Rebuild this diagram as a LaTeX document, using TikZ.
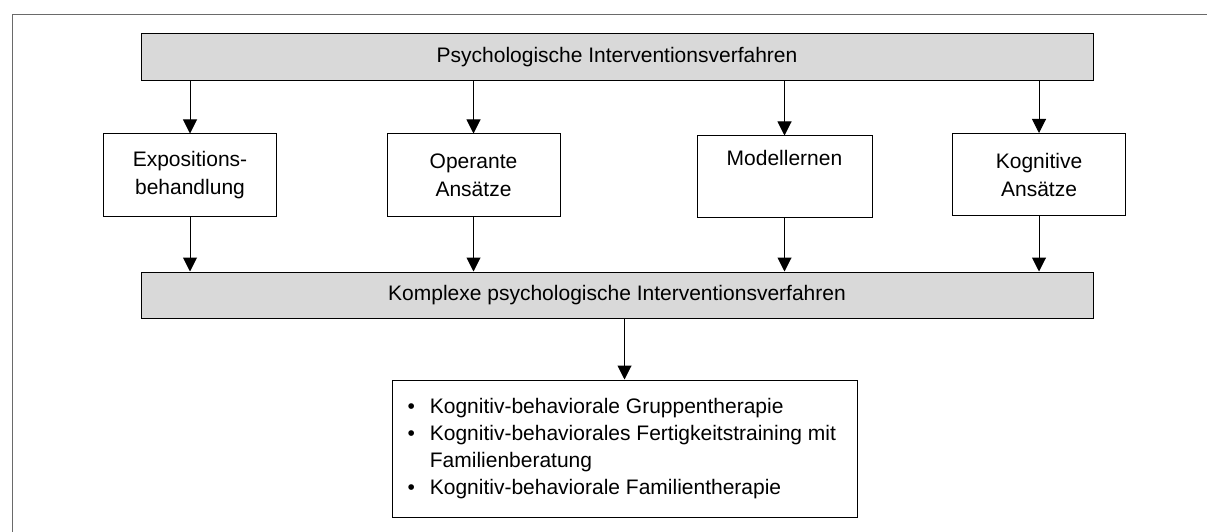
\documentclass[tikz,border=0pt]{standalone}
\usepackage{fontspec}
\setmainfont{Liberation Sans}
\usetikzlibrary{arrows.meta}
\definecolor{boxgray}{HTML}{D9D9D9}
\definecolor{framegray}{HTML}{6A6A6A}
\tikzset{
  graybox/.style={draw=black, line width=1pt, fill=boxgray, minimum width=952pt, minimum height=47pt, inner sep=0pt, font=\fontsize{21}{24}\selectfont},
  method/.style={draw=black, line width=1pt, fill=white, minimum width=173pt, minimum height=82pt, inner sep=0pt, align=center, font=\fontsize{21}{28}\selectfont},
  listbox/.style={draw=black, line width=1pt, fill=white, minimum width=465pt, minimum height=137pt, inner sep=0pt, font=\fontsize{21}{27}\selectfont},
  conn/.style={line width=1pt, draw=black, -{Triangle[width=14pt,length=14pt]}}
}
\begin{document}
\begin{tikzpicture}[x=1pt,y=-1pt]
\useasboundingbox (0,0) rectangle (1207,532);
\draw[framegray, line width=1pt] (12,540) -- (12,15) -- (1215,15);
\node[graybox] (top) at (617,57.5) {Psychologische Interventionsverfahren};
\node[method] (exp) at (190,175) {Expositions-\\behandlung};
\node[method] (ope) at (473.5,175) {Operante\\Ans\"atze};
\node[method, minimum width=175pt, minimum height=81pt] (mod) at (784.5,176.5) {Modellernen\\\strut};
\node[method] (kog) at (1039,174.5) {Kognitive\\Ans\"atze};
\node[graybox, minimum height=46pt] (kom) at (617,295) {Komplexe psychologische Interventionsverfahren};
\node[listbox] (list) at (624.5,448.5) {%
  \begin{minipage}{434pt}
  \setlength{\parindent}{0pt}%
  \begin{tabular}{@{}l@{\hspace{15pt}}l@{}}
  \textbullet & Kognitiv-behaviorale Gruppentherapie\\
  \textbullet & Kognitiv-behaviorales Fertigkeitstraining mit\\
   & Familienberatung\\
  \textbullet & Kognitiv-behaviorale Familientherapie
  \end{tabular}
  \end{minipage}};
\draw[conn] (top.south -| exp.north) -- (exp.north);
\draw[conn] (top.south -| ope.north) -- (ope.north);
\draw[conn] (top.south -| mod.north) -- (mod.north);
\draw[conn] (top.south -| kog.north) -- (kog.north);
\draw[conn] (exp.south) -- (exp.south |- kom.north);
\draw[conn] (ope.south) -- (ope.south |- kom.north);
\draw[conn] (mod.south) -- (mod.south |- kom.north);
\draw[conn] (kog.south) -- (kog.south |- kom.north);
\draw[conn] (kom.south -| list.north) -- (list.north);
\end{tikzpicture}
\end{document}
